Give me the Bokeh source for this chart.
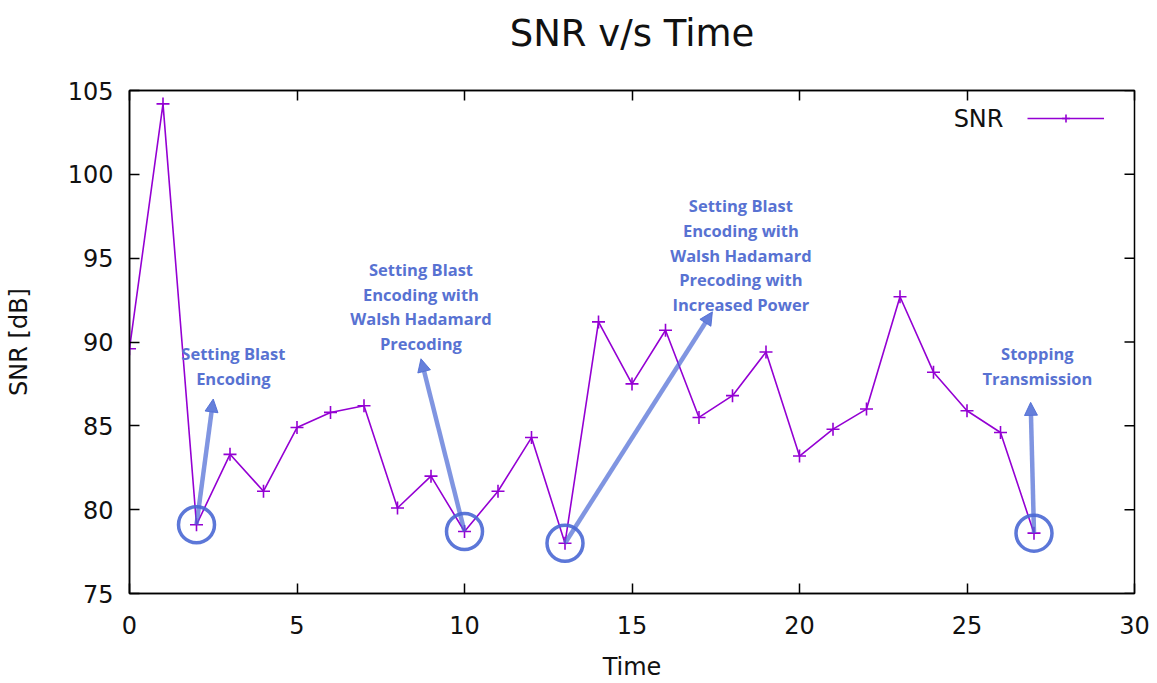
import math
from bokeh.plotting import figure
from bokeh.models import (Range1d, FixedTicker, Arrow, NormalHead, LinearAxis,
                          Label, Legend, LegendItem, ColumnDataSource)
from bokeh.embed import file_html
from bokeh.resources import INLINE
from bokeh.core.properties import value

# ---------------- data ----------------
time = list(range(28))
snr = [89.6, 104.2, 79.1, 83.3, 81.1, 84.9, 85.8, 86.2, 80.1, 82.0,
       78.7, 81.1, 84.3, 78.0, 91.2, 87.5, 90.7, 85.5, 86.8, 89.4,
       83.2, 84.8, 86.0, 92.7, 88.2, 85.9, 84.6, 78.6]

x_ticks = [0, 5, 10, 15, 20, 25, 30]
y_ticks = [75, 80, 85, 90, 95, 100, 105]

event_times = [2, 10, 13, 27]
event_labels = [
    "Setting Blast\nEncoding",
    "Setting Blast\nEncoding with\nWalsh Hadamard\nPrecoding",
    "Setting Blast\nEncoding with\nWalsh Hadamard\nPrecoding with\nIncreased Power",
    "Stopping\nTransmission",
]
arrow_tip_x = [2.5, 8.7, 17.4, 26.9]
arrow_tip_y = [86.6, 89.0, 91.8, 86.4]
label_x = [3.1, 8.7, 18.25, 27.1]
label_top_y = [90.0, 95.0, 98.8, 90.0]

# ---------------- figure ----------------
FONT = "DejaVu Sans"
LINE = "#9400d3"
BLUE = "#4a68d4"
TEXT_BLUE = "#5872d2"

p = figure(width=1157, height=683, output_backend="svg", toolbar_location=None,
           x_range=Range1d(0, 30), y_range=Range1d(75, 105),
           min_border_left=129, min_border_right=23, min_border_top=90,
           min_border_bottom=88, background_fill_color="white",
           border_fill_color="white")

p.title.text = "SNR v/s Time"
p.title.align = "center"
p.title.text_font = FONT
p.title.text_font_size = "37px"
p.title.text_font_style = "normal"
p.title.text_color = "#111111"
p.title.standoff = 0
p.title.padding = (0, 0, 0, 36)

p.xgrid.visible = False
p.ygrid.visible = False
p.outline_line_color = "black"
p.outline_line_width = 1.5

for ax in (p.xaxis[0], p.yaxis[0]):
    ax.major_label_text_font = FONT
    ax.major_label_text_font_size = "24px"
    ax.major_label_text_color = "#111111"
    ax.axis_label_text_font = FONT
    ax.axis_label_text_font_size = "24px"
    ax.axis_label_text_font_style = "normal"
    ax.axis_label_text_color = "#111111"
    ax.major_tick_in = 10
    ax.major_tick_out = 0
    ax.minor_tick_line_color = None
    ax.axis_line_width = 1.5
    ax.major_tick_line_width = 1.5

p.xaxis[0].ticker = FixedTicker(ticks=x_ticks)
p.yaxis[0].ticker = FixedTicker(ticks=y_ticks)
p.xaxis[0].axis_label = "Time"
p.yaxis[0].axis_label = "SNR [dB]"
p.xaxis[0].major_label_standoff = 22
p.xaxis[0].axis_label_standoff = 16
p.yaxis[0].major_label_standoff = 16
p.yaxis[0].axis_label_standoff = 32

# mirrored top axis: inside ticks only, labels not drawn
top = LinearAxis(ticker=FixedTicker(ticks=x_ticks), major_label_text_color=None,
                 major_label_text_font_size="24px", major_label_standoff=0,
                 major_tick_in=10, major_tick_out=0, minor_tick_line_color=None,
                 axis_line_width=1.5, major_tick_line_width=1.5)
p.add_layout(top, "above")

# mirrored inside ticks on the right edge (clipped to the frame)
p.scatter(x=[30] * len(y_ticks), y=y_ticks, marker="dash", size=20,
          line_color="black", line_width=1.5)

src = ColumnDataSource(dict(t=time, snr=snr))
ln = p.line("t", "snr", source=src, line_color=LINE, line_width=1.6)
mk = p.scatter("t", "snr", source=src, marker="cross", size=13,
               line_color=LINE, line_width=1.6)

# ---------------- annotations ----------------
ev_y = [snr[time.index(t)] for t in event_times]
ev_src = ColumnDataSource(dict(x=event_times, y=ev_y))
p.scatter("x", "y", source=ev_src, marker="circle", size=36, fill_color=None,
          line_color=BLUE, line_width=3.5, line_alpha=0.9)

for ex, ey, tx, ty in zip(event_times, ev_y, arrow_tip_x, arrow_tip_y):
    p.add_layout(Arrow(end=NormalHead(size=13, fill_color=BLUE, line_color=BLUE,
                                      fill_alpha=0.85, line_alpha=0.85),
                       x_start=ex, y_start=ey, x_end=tx, y_end=ty,
                       line_color=BLUE, line_width=4.5, line_alpha=0.7))

lab_src = ColumnDataSource(dict(x=label_x, y=label_top_y, text=event_labels))
p.text("x", "y", text="text", source=lab_src, text_font=value("Open Sans"),
       text_font_style="bold", text_font_size="16.5px", text_color=TEXT_BLUE,
       text_align="center", text_baseline="top", text_line_height=1.07)

# ---------------- legend ----------------
legend = Legend(items=[LegendItem(label="", renderers=[ln, mk])],
                location="top_right", glyph_width=77, glyph_height=20,
                border_line_color=None, background_fill_alpha=0,
                label_text_font_size="22px", label_standoff=12, margin=18,
                padding=10, label_width=0)
p.add_layout(legend)
p.add_layout(Label(x=1003 - 129, y=595 - 120, x_units="screen", y_units="screen",
                   text="SNR", text_font=FONT, text_font_size="24px",
                   text_color="#111111", text_align="right", text_baseline="middle"))

open("out.html", "w").write(file_html(p, INLINE))
